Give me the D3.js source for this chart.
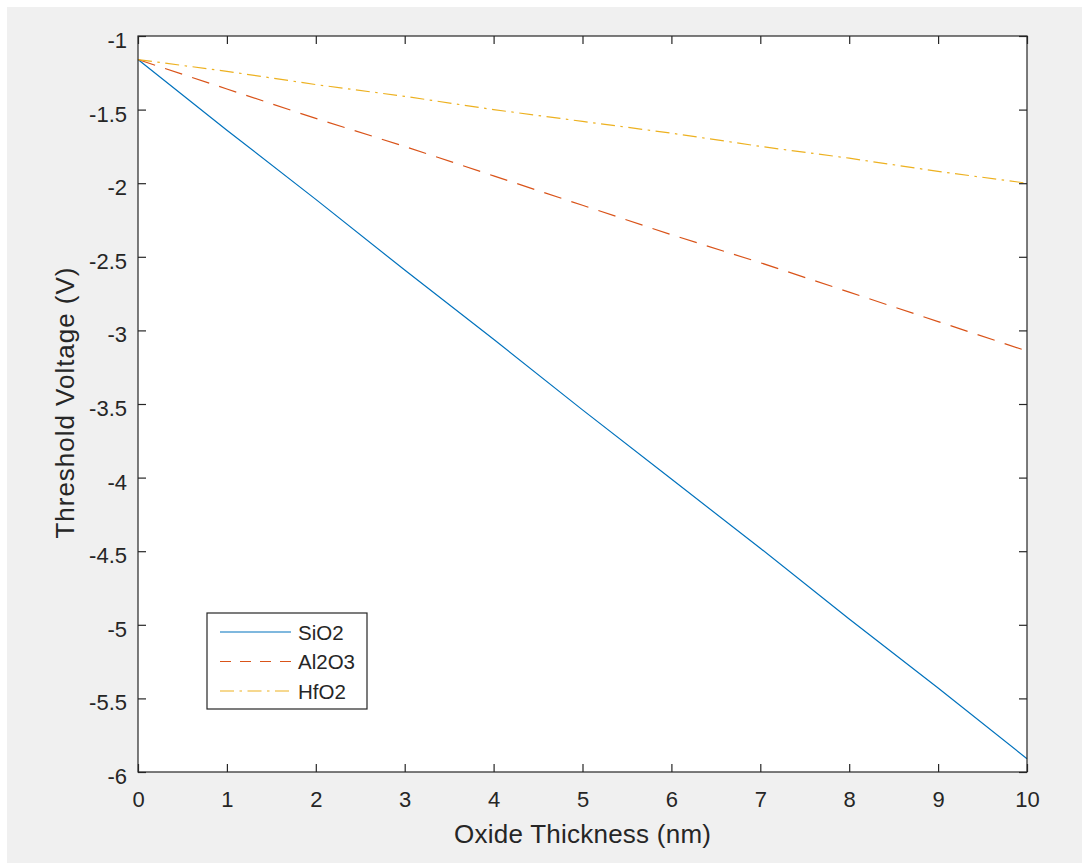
<!DOCTYPE html>
<html>
<head>
<meta charset="utf-8">
<script src="https://cdn.jsdelivr.net/npm/d3@7"></script>
<style>
  body { margin: 0; background: #fff; }
  svg { display: block; font-family: Arial, "Liberation Sans", sans-serif; }
</style>
</head>
<body>
<svg id="chart" width="1082" height="863"></svg>
<script>
// oxide thickness (nm)
const thickness = [0, 1, 2, 3, 4, 5, 6, 7, 8, 9, 10];
// threshold voltage (V) per oxide
const sio2  = [-1.16, -1.64, -2.11, -2.59, -3.06, -3.54, -4.01, -4.48, -4.96, -5.43, -5.91];
const al2o3 = [-1.16, -1.36, -1.56, -1.75, -1.95, -2.15, -2.35, -2.54, -2.74, -2.94, -3.14];
const hfo2  = [-1.16, -1.24, -1.33, -1.41, -1.50, -1.58, -1.66, -1.75, -1.83, -1.92, -2.00];

const seriesNames = ["SiO2", "Al2O3", "HfO2"];
const xTicks = [0, 1, 2, 3, 4, 5, 6, 7, 8, 9, 10];
const yTicks = [-1, -1.5, -2, -2.5, -3, -3.5, -4, -4.5, -5, -5.5, -6];

const svg = d3.select("#chart");
const W = 1082, H = 863;
const ink = "#262626";

// figure background (MATLAB grey)
svg.append("rect")
  .attr("x", 7).attr("y", 7)
  .attr("width", W - 7).attr("height", H - 7)
  .attr("fill", "#f0f0f0");

const m = { left: 138, right: 1027, top: 36, bottom: 772 };

const x = d3.scaleLinear().domain([0, 10]).range([m.left, m.right]);
const y = d3.scaleLinear().domain([-6, -1]).range([m.bottom, m.top]);

// axes area
svg.append("rect")
  .attr("x", m.left).attr("y", m.top)
  .attr("width", m.right - m.left).attr("height", m.bottom - m.top)
  .attr("fill", "#fff");

const series = [
  { name: seriesNames[0], values: sio2,  color: "#0072bd", dash: null,              legDash: null },
  { name: seriesNames[1], values: al2o3, color: "#d95319", dash: "18,10.5",         legDash: "11,9" },
  { name: seriesNames[2], values: hfo2,  color: "#edb120", dash: "14,5.5,2.5,5.5", legDash: "14,5.5,2.5,5.5" }
];

const line = d3.line()
  .x((d, i) => x(thickness[i]))
  .y(d => y(d));

svg.append("g")
  .selectAll("path")
  .data(series)
  .join("path")
    .attr("d", d => line(d.values))
    .attr("fill", "none")
    .attr("stroke", d => d.color)
    .attr("stroke-width", 1.2)
    .attr("stroke-dasharray", d => d.dash);

// ticks (inward, on all four sides)
const tickLen = 8;
const gx = svg.append("g")
  .attr("transform", `translate(0,${m.bottom})`)
  .call(d3.axisBottom(x).tickValues(xTicks).tickSizeInner(-tickLen).tickSizeOuter(0).tickFormat(d3.format("d")));
gx.selectAll("text").attr("y", 35).attr("dy", null);

const gxTop = svg.append("g")
  .attr("transform", `translate(0,${m.top})`)
  .call(d3.axisTop(x).tickValues(xTicks).tickSizeInner(-tickLen).tickSizeOuter(0).tickFormat(""));

const gy = svg.append("g")
  .attr("transform", `translate(${m.left},0)`)
  .call(d3.axisLeft(y).tickValues(yTicks).tickSizeInner(-tickLen).tickSizeOuter(0).tickPadding(11).tickFormat(d => d));
gy.selectAll("text").attr("dy", null).attr("y", 11.5);

const gyRight = svg.append("g")
  .attr("transform", `translate(${m.right},0)`)
  .call(d3.axisRight(y).tickValues(yTicks).tickSizeInner(-tickLen).tickSizeOuter(0).tickFormat(""));

[gx, gxTop, gy, gyRight].forEach(g => {
  g.select(".domain").remove();
  g.selectAll("line").attr("stroke", ink).attr("stroke-width", 1.2);
  g.selectAll("text").attr("fill", ink).style("font-size", "22px").style("font-family", "Arial, 'Liberation Sans', sans-serif");
});

// axes box
svg.append("rect")
  .attr("x", m.left).attr("y", m.top)
  .attr("width", m.right - m.left).attr("height", m.bottom - m.top)
  .attr("fill", "none")
  .attr("stroke", ink)
  .attr("stroke-width", 1.2);

// axis labels
svg.append("text")
  .attr("x", (m.left + m.right) / 2).attr("y", 843)
  .attr("text-anchor", "middle")
  .attr("fill", ink)
  .attr("textLength", 257)
  .style("font-size", "26px")
  .text("Oxide Thickness (nm)");

svg.append("text")
  .attr("transform", `translate(74,${(m.top + m.bottom) / 2 - 1}) rotate(-90)`)
  .attr("text-anchor", "middle")
  .attr("fill", ink)
  .attr("textLength", 271)
  .style("font-size", "26px")
  .text("Threshold Voltage (V)");

// legend
const leg = svg.append("g").attr("transform", "translate(207,613)");
leg.append("rect")
  .attr("width", 160).attr("height", 96)
  .attr("fill", "#fff")
  .attr("stroke", ink)
  .attr("stroke-width", 1.2);

const rows = leg.selectAll("g.row")
  .data(series)
  .join("g")
    .attr("class", "row")
    .attr("transform", (d, i) => `translate(0,${19 + i * 29.5})`);

rows.append("line")
  .attr("x1", 13).attr("x2", 84)
  .attr("stroke", d => d.color)
  .attr("stroke-width", 1.2)
  .attr("stroke-dasharray", d => d.legDash);

rows.append("text")
  .attr("x", 91).attr("y", 7.5)
  .attr("fill", ink)
  .style("font-size", "20.5px")
  .text(d => d.name);
</script>
</body>
</html>
